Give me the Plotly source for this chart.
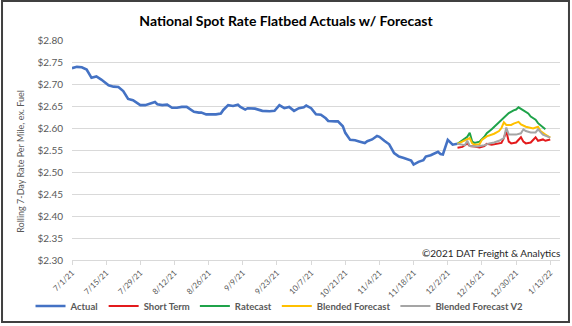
import plotly.graph_objects as go
from datetime import date, timedelta

# ---------------- data ----------------
start_date = date(2021, 7, 1)

# day offsets from 7/1/21 and values
actual_day = [0, 2, 4, 6, 8, 10, 12, 15, 17, 19, 21, 23, 25, 28, 30, 32, 34, 35, 37, 39,
              41, 43, 45, 47, 48, 50, 52, 53, 55, 59, 61, 62, 64, 66, 68, 69, 71, 72, 75, 78,
              81, 83, 85, 87, 89, 91, 93, 95, 96, 98, 100, 102, 104, 105, 108, 109, 111, 112, 114, 116,
              118, 120, 121, 123, 125, 126, 128, 130, 132, 134, 136, 139, 140, 142, 144, 145, 147, 150, 151, 152,
              154, 156, 158]
actual_val = [2.736, 2.739, 2.738, 2.733, 2.714, 2.717, 2.710, 2.697, 2.694, 2.693, 2.684, 2.666, 2.663, 2.652, 2.652, 2.655, 2.659, 2.654, 2.652, 2.653,
              2.646, 2.646, 2.648, 2.648, 2.644, 2.637, 2.635, 2.635, 2.631, 2.631, 2.633, 2.641, 2.652, 2.650, 2.653, 2.648, 2.642, 2.645, 2.644, 2.639,
              2.638, 2.639, 2.652, 2.645, 2.648, 2.639, 2.645, 2.647, 2.651, 2.645, 2.631, 2.630, 2.622, 2.616, 2.615, 2.615, 2.604, 2.589, 2.573, 2.572,
              2.569, 2.566, 2.570, 2.574, 2.582, 2.580, 2.571, 2.563, 2.543, 2.535, 2.532, 2.526, 2.517, 2.523, 2.527, 2.535, 2.538, 2.546, 2.541, 2.540,
              2.573, 2.562, 2.564]

short_day = [158, 160, 162, 163, 165, 167, 169, 170, 172, 174, 176, 177, 178, 179, 180, 182, 184, 185, 186, 188, 190, 191, 193, 194, 196]
short_val = [2.555, 2.557, 2.565, 2.559, 2.558, 2.556, 2.559, 2.564, 2.562, 2.564, 2.566, 2.577, 2.593, 2.569, 2.565, 2.567, 2.579, 2.569, 2.565, 2.567, 2.579, 2.571, 2.574, 2.571, 2.574]

ratecast_day = [158, 160, 162, 163, 164, 165, 167, 169, 170, 172, 174, 175, 177, 179, 181, 182, 183, 184, 185, 186, 187, 188, 189, 190, 191, 193, 194]
ratecast_val = [2.564, 2.571, 2.580, 2.589, 2.569, 2.566, 2.569, 2.580, 2.588, 2.597, 2.607, 2.613, 2.624, 2.634, 2.640, 2.642, 2.647, 2.643, 2.641, 2.637, 2.633, 2.626, 2.622, 2.619, 2.611, 2.602, 2.597]

blended_day = [158, 160, 162, 163, 164, 165, 167, 168, 170, 173, 175, 176, 177, 178, 180, 181, 183, 184, 186, 188, 189, 191, 192, 194, 196]
blended_val = [2.564, 2.569, 2.575, 2.577, 2.565, 2.562, 2.563, 2.573, 2.581, 2.587, 2.593, 2.600, 2.613, 2.607, 2.607, 2.610, 2.614, 2.608, 2.603, 2.600, 2.599, 2.603, 2.593, 2.585, 2.578]

blended_v2_day = [158, 161, 162, 163, 166, 169, 171, 173, 175, 177, 178, 179, 182, 184, 185, 186, 188, 190, 191, 193, 196]
blended_v2_val = [2.564, 2.561, 2.571, 2.559, 2.558, 2.561, 2.565, 2.567, 2.571, 2.577, 2.601, 2.585, 2.585, 2.588, 2.597, 2.593, 2.590, 2.590, 2.597, 2.585, 2.578]

tick_day = [0, 14, 28, 42, 56, 70, 84, 98, 112, 126, 140, 154, 168, 182, 196]
tick_labels = ["7/1/21", "7/15/21", "7/29/21", "8/12/21", "8/26/21", "9/9/21", "9/23/21", "10/7/21",
               "10/21/21", "11/4/21", "11/18/21", "12/2/21", "12/16/21", "12/30/21", "1/13/22"]
y_ticks = [2.30, 2.35, 2.40, 2.45, 2.50, 2.55, 2.60, 2.65, 2.70, 2.75, 2.80]
x_range_day = [0, 200]


def to_dates(days):
    return [(start_date + timedelta(days=d)).isoformat() for d in days]


series = [
    ("Actual", actual_day, actual_val, "#4472C4", 2.6),
    ("Short Term", short_day, short_val, "#E31A1C", 2.0),
    ("Ratecast", ratecast_day, ratecast_val, "#1FA34A", 2.0),
    ("Blended Forecast", blended_day, blended_val, "#FFC000", 2.0),
    ("Blended Forecast V2", blended_v2_day, blended_v2_val, "#A5A5A5", 2.0),
]

FONT = "Lato"
GRAY = "#595959"

fig = go.Figure()
for name, d, v, color, w in series:
    fig.add_trace(go.Scatter(x=to_dates(d), y=v, mode="lines", name=name,
                             line=dict(color=color, width=w)))

fig.update_layout(
    width=572, height=326,
    margin=dict(l=72, r=12, t=40, b=66, autoexpand=False),
    paper_bgcolor="white", plot_bgcolor="white",
    font=dict(family=FONT, color=GRAY, size=10),
    title=dict(text="<b>National Spot Rate Flatbed Actuals w/ Forecast</b>",
               x=0.5, xanchor="center", y=0.935, yanchor="middle",
               font=dict(family=FONT, size=14, color="#000000")),
    showlegend=True,
    legend=dict(orientation="h", xref="paper", yref="paper",
                x=-0.085, xanchor="left", y=-0.209, yanchor="middle",
                font=dict(family=FONT, size=9.5, color=GRAY, weight="bold"),
                traceorder="normal", itemwidth=30,
                bgcolor="rgba(0,0,0,0)"),
)

fig.update_xaxes(
    range=to_dates(x_range_day),
    tickvals=to_dates(tick_day), ticktext=tick_labels,
    tickangle=-45, tickfont=dict(size=8, color=GRAY, family=FONT),
    showgrid=False, showline=True, linecolor="#D9D9D9", linewidth=1,
    ticks="outside", ticklen=4, tickcolor="#D9D9D9", zeroline=False,
)
fig.update_yaxes(
    range=[2.30, 2.80], tickvals=y_ticks, tickformat="$.2f",
    tickfont=dict(size=10, color=GRAY, family=FONT),
    showgrid=True, gridcolor="#D9D9D9", gridwidth=1,
    showline=False, zeroline=False, ticks="", ticklabelstandoff=8,
)

# y-axis title as a rotated annotation
fig.add_annotation(text="Rolling 7-Day Rate Per Mile, ex. Fuel", textangle=-90,
                   xref="paper", yref="paper", x=-0.107, y=0.45,
                   xanchor="center", yanchor="middle", showarrow=False,
                   font=dict(family=FONT, size=9, color=GRAY))
# copyright note
fig.add_annotation(text="©2021 DAT Freight & Analytics",
                   xref="paper", yref="paper", x=1.004, y=0.03,
                   xanchor="right", yanchor="middle", showarrow=False,
                   font=dict(family=FONT, size=10, color="#262626"))
# outer border of the chart
fig.add_shape(type="rect", xref="paper", yref="paper",
              x0=-0.1434, x1=1.0184, y0=-0.2818, y1=1.177,
              line=dict(color="#404040", width=2), fillcolor="rgba(0,0,0,0)", layer="above")

fig.write_html("out.html")
